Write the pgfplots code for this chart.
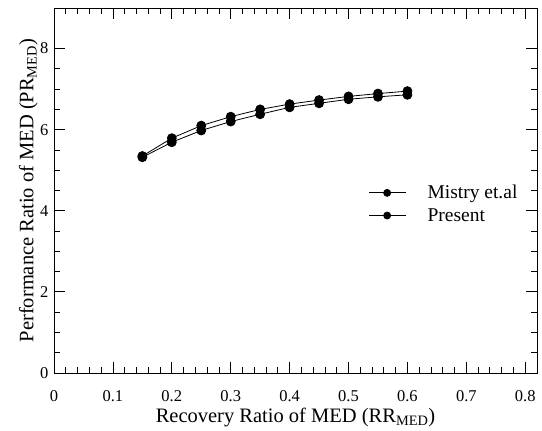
\documentclass[border=0pt]{standalone}
\usepackage{fontspec}
\setmainfont{Liberation Serif}
\usepackage{pgfplots}
\pgfplotsset{compat=1.18}
\usetikzlibrary{calc}

\begin{document}
\begin{tikzpicture}
\begin{axis}[
    name=ax,
    scale only axis,
    width=483pt, height=365pt,
    xmin=0, xmax=0.82, ymin=0, ymax=9,
    xtick={0,0.1,...,0.8}, ytick={0,2,4,6,8},
    minor x tick num=4, minor y tick num=3,
    tick align=inside,
    major tick length=11pt, minor tick length=6pt,
    every tick/.style={black, line width=0.8pt},
    axis line style={line width=0.9pt},
    tick label style={font=\fontsize{16.5}{18}\selectfont},
    /pgf/number format/assume math mode=true,
    xticklabel style={/pgf/number format/fixed, /pgf/number format/precision=1, yshift=-14pt},
    yticklabel style={xshift=-2pt},
    xlabel={Recovery Ratio of MED (RR\textsubscript{MED})},
    ylabel={Performance Ratio of MED (PR\textsubscript{MED})},
    label style={font=\fontsize{20.5}{22}\selectfont},
    xlabel style={yshift=1pt},
    ylabel style={yshift=-4.5pt},
    legend style={at={(0.645,0.463)}, anchor=west, draw=none, fill=none,
        font=\fontsize{19.5}{21}\selectfont, row sep=4pt},
    legend cell align=left,
    legend image code/.code={
        \draw[mark repeat=2, mark phase=2, #1, mark size=3.5pt] plot coordinates {(0pt,0pt) (18pt,0pt) (37pt,0pt)};
        \path (56pt,0pt);
    },
]
\addplot[black, line width=0.8pt, mark=*, mark size=4.5pt] coordinates {
    (0.15,5.35) (0.2,5.79) (0.25,6.10) (0.3,6.32) (0.35,6.50)
    (0.4,6.63) (0.45,6.73) (0.5,6.82) (0.55,6.89) (0.6,6.95)};
\addplot[black, line width=0.8pt, mark=*, mark size=4.5pt] coordinates {
    (0.15,5.32) (0.2,5.69) (0.25,5.98) (0.3,6.20) (0.35,6.38)
    (0.4,6.55) (0.45,6.65) (0.5,6.75) (0.55,6.81) (0.6,6.86)};
\legend{Mistry et.al, Present}
\end{axis}
\pgfresetboundingbox
\path ($(ax.south west)+(-54pt,-57pt)$) rectangle ($(ax.north east)+(5pt,8pt)$);
\end{tikzpicture}
\end{document}
